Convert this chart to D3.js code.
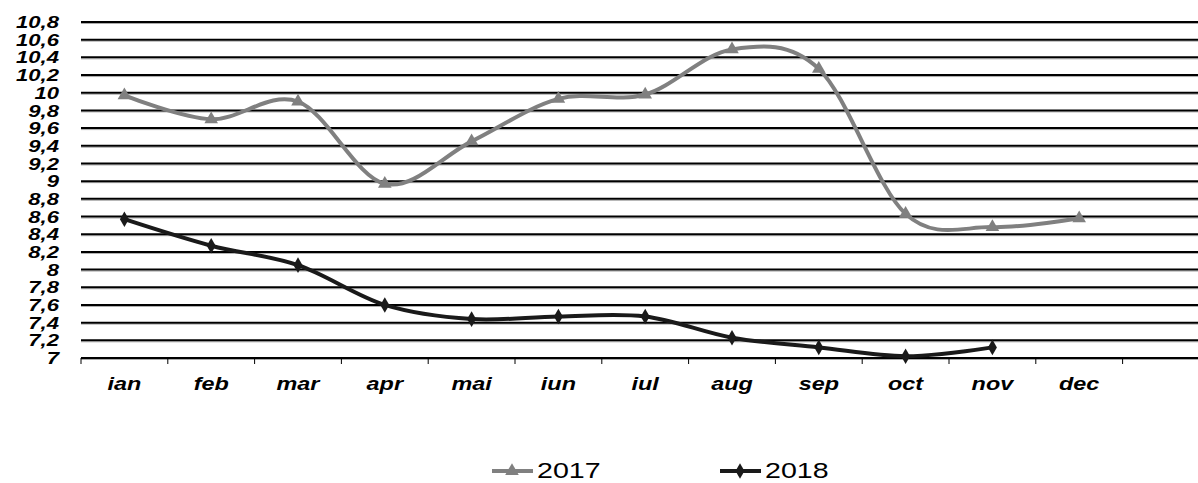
<!DOCTYPE html>
<head>
    <title>2017 vs 2018</title>
</head>
<style>
    body { margin: 0; background: #fff; }
    svg { font-family: "Liberation Sans", Arial, sans-serif; }
    .tick-label { font-size: 17px; font-weight: bold; font-style: italic; }
    .x-label { font-size: 18px; }
</style>
<svg width="1198" height="483"></svg>
<script src="https://d3js.org/d3.v7.min.js"></script>
<script>

    var months = ["ian", "feb", "mar", "apr", "mai", "iun", "iul", "aug", "sep", "oct", "nov", "dec", ""];
    var yTicks = [7, 7.2, 7.4, 7.6, 7.8, 8, 8.2, 8.4, 8.6, 8.8, 9, 9.2, 9.4, 9.6, 9.8, 10, 10.2, 10.4, 10.6, 10.8];
    var values2017 = [9.97, 9.70, 9.90, 8.97, 9.45, 9.93, 9.98, 10.49, 10.27, 8.63, 8.48, 8.58];
    var values2018 = [8.57, 8.27, 8.05, 7.60, 7.44, 7.47, 7.47, 7.23, 7.12, 7.02, 7.12];

    var svg = d3.select("svg");
    var stretch = 1.3; // the original text is drawn wide

    var x = d3.scaleBand()
        .domain(months)
        .range([81, 81 + 13 * 86.8]);

    var y = d3.scaleLinear()
        .domain([7, 10.8])
        .range([358, 22]);

    var fmt = function(d) { return String(+d.toFixed(1)).replace(".", ","); };

    // gridlines with a little grey shadow under each
    var grid = svg.append("g");
    grid.selectAll("line.shadow")
        .data(yTicks)
        .enter().append("line")
        .attr("class", "shadow")
        .attr("x1", 81).attr("x2", 1198)
        .attr("y1", function(d) { return y(d) + 1.5; })
        .attr("y2", function(d) { return y(d) + 1.5; })
        .attr("stroke", "#aaa")
        .attr("stroke-width", 1);
    grid.selectAll("line.major")
        .data(yTicks)
        .enter().append("line")
        .attr("class", "major")
        .attr("x1", 81).attr("x2", 1198)
        .attr("y1", function(d) { return y(d); })
        .attr("y2", function(d) { return y(d); })
        .attr("stroke", "#000")
        .attr("stroke-width", 2);

    // y labels
    svg.append("g").selectAll("text")
        .data(yTicks)
        .enter().append("text")
        .attr("class", "tick-label")
        .attr("transform", function(d) { return "translate(59," + y(d) + ") scale(" + stretch + ",1)"; })
        .attr("dy", "0.36em")
        .attr("text-anchor", "end")
        .text(fmt);

    // x axis ticks
    var bounds = months.map(function(m) { return x(m); });
    svg.append("g").selectAll("line")
        .data(bounds)
        .enter().append("line")
        .attr("x1", function(d) { return d; })
        .attr("x2", function(d) { return d; })
        .attr("y1", 358).attr("y2", 364)
        .attr("stroke", "#000")
        .attr("stroke-width", 1);

    svg.append("g").selectAll("text")
        .data(months)
        .enter().append("text")
        .attr("class", "tick-label x-label")
        .attr("transform", function(d) { return "translate(" + (x(d) + x.bandwidth() / 2) + ",390) scale(" + stretch + ",1)"; })
        .attr("text-anchor", "middle")
        .text(function(d) { return d; });

    var line = d3.line()
        .x(function(d, i) { return x(months[i]) + x.bandwidth() / 2; })
        .y(function(d) { return y(d); })
        .curve(d3.curveCatmullRom.alpha(0));

    svg.append("path")
        .datum(values2017)
        .attr("d", line)
        .attr("fill", "none")
        .attr("stroke", "#808080")
        .attr("stroke-width", 4);

    svg.append("path")
        .datum(values2018)
        .attr("d", line)
        .attr("fill", "none")
        .attr("stroke", "#1a1a1a")
        .attr("stroke-width", 4);

    var tri = d3.symbol().type(d3.symbolTriangle).size(80);
    var dia = d3.symbol().type(d3.symbolDiamond).size(70);

    svg.append("g").selectAll("path")
        .data(values2017)
        .enter().append("path")
        .attr("d", tri)
        .attr("transform", function(d, i) { return "translate(" + (x(months[i]) + x.bandwidth() / 2) + "," + y(d) + ")"; })
        .attr("fill", "#808080");

    svg.append("g").selectAll("path")
        .data(values2018)
        .enter().append("path")
        .attr("d", dia)
        .attr("transform", function(d, i) { return "translate(" + (x(months[i]) + x.bandwidth() / 2) + "," + y(d) + ")"; })
        .attr("fill", "#1a1a1a");

    // legend
    var legend = [
        {name: "2017", color: "#808080", sym: tri, x: 492},
        {name: "2018", color: "#1a1a1a", sym: dia, x: 720}
    ];
    var lg = svg.append("g").selectAll("g")
        .data(legend)
        .enter().append("g")
        .attr("transform", function(d) { return "translate(" + d.x + ",471)"; });
    lg.append("line")
        .attr("x1", 0).attr("x2", 41)
        .attr("stroke", function(d) { return d.color; })
        .attr("stroke-width", 4);
    lg.append("path")
        .attr("d", function(d) { return d.sym(); })
        .attr("transform", "translate(20,0)")
        .attr("fill", function(d) { return d.color; });
    lg.append("text")
        .attr("transform", "translate(45,7) scale(" + stretch + ",1)")
        .attr("font-size", 22)
        .text(function(d) { return d.name; });

</script>
